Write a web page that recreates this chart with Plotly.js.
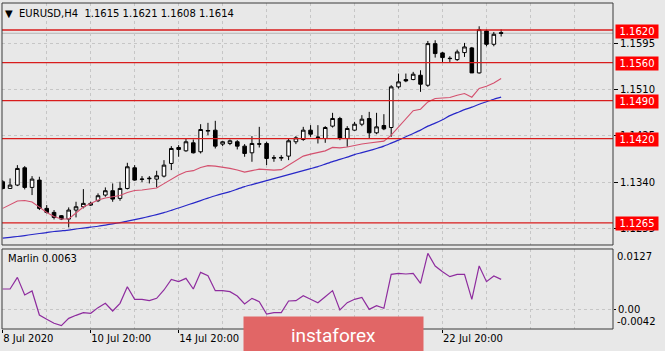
<!DOCTYPE html>
<html><head><meta charset="utf-8">
<script src="https://cdn.plot.ly/plotly-3.0.1.min.js"></script>
<style>html,body{margin:0;padding:0;background:#e8e8e8;} #chart{width:665px;height:351px;}</style>
</head><body><div id="chart"></div>
<script>
// EURUSD H4 candles
const openP = [1.13406,1.13283,1.13345,1.13663,1.13302,1.13437,1.12916,1.12842,1.12781,1.12720,
1.12885,1.12946,1.12977,1.13057,1.13161,1.13241,1.13100,1.13283,1.13663,1.13449,
1.13461,1.13455,1.13510,1.13743,1.14037,1.13976,1.14123,1.13958,1.14338,1.14356,
1.14099,1.14111,1.14142,1.14062,1.13939,1.14105,1.14111,1.13841,1.13841,1.13878,
1.14142,1.14184,1.14356,1.14221,1.14203,1.14430,1.14570,1.14203,1.14356,1.14466,
1.14570,1.14307,1.14442,1.14405,1.15153,1.15288,1.15288,1.15367,1.15183,1.15949,
1.15778,1.15680,1.15655,1.15784,1.15870,1.15410,1.16182,1.15937,1.16150];
const highP = [1.13437,1.13467,1.13712,1.13694,1.13510,1.13498,1.12977,1.12885,1.12793,1.12934,
1.13038,1.13271,1.13038,1.13192,1.13302,1.13375,1.13406,1.13755,1.13712,1.13510,
1.13510,1.13608,1.13804,1.14062,1.14080,1.14203,1.14184,1.14466,1.14491,1.14528,
1.14160,1.14184,1.14172,1.14099,1.14246,1.14417,1.14142,1.13896,1.13896,1.14203,
1.14246,1.14417,1.14448,1.14448,1.14430,1.14675,1.14601,1.14430,1.14509,1.14632,
1.14693,1.14675,1.14650,1.15183,1.15398,1.15398,1.15429,1.15459,1.15998,1.16011,
1.15796,1.15717,1.15839,1.15962,1.15888,1.16268,1.16207,1.16164,1.16210];
const lowP = [1.13265,1.13275,1.13326,1.13265,1.13161,1.12885,1.12824,1.12713,1.12701,1.12566,
1.12750,1.12916,1.12959,1.13032,1.13130,1.13038,1.13057,1.13265,1.13424,1.13400,
1.13375,1.13302,1.13486,1.13621,1.13866,1.13958,1.13927,1.13927,1.14264,1.14019,
1.14062,1.14080,1.14001,1.13866,1.13774,1.14037,1.13713,1.13774,1.13792,1.13804,
1.14099,1.14160,1.14233,1.14111,1.14123,1.14405,1.14172,1.14050,1.14344,1.14430,
1.14203,1.14282,1.14356,1.14233,1.15122,1.15239,1.15275,1.15061,1.15153,1.15692,
1.15612,1.15612,1.15631,1.15704,1.15410,1.15398,1.15900,1.15900,1.16080];
const closeP = [1.13283,1.13345,1.13651,1.13302,1.13455,1.12916,1.12842,1.12750,1.12720,1.12885,
1.12946,1.13008,1.13008,1.13149,1.13241,1.13087,1.13283,1.13682,1.13437,1.13455,
1.13470,1.13516,1.13712,1.14019,1.14001,1.14142,1.13939,1.14368,1.14350,1.14062,
1.14142,1.14160,1.14062,1.13927,1.14111,1.14099,1.13835,1.13847,1.13853,1.14160,
1.14215,1.14356,1.14282,1.14227,1.14405,1.14571,1.14203,1.14387,1.14466,1.14558,
1.14307,1.14417,1.14380,1.15153,1.15245,1.15263,1.15386,1.15202,1.15949,1.15766,
1.15692,1.15674,1.15796,1.15888,1.15410,1.16207,1.15937,1.16121,1.16140];
// moving averages
const maFast = [1.12916,1.12977,1.13051,1.13060,1.13032,1.12940,1.12839,1.12766,1.12720,1.12720,
1.12830,1.12940,1.13005,1.13069,1.13106,1.13133,1.13152,1.13207,1.13244,1.13253,
1.13271,1.13290,1.13372,1.13455,1.13529,1.13589,1.13611,1.13670,1.13703,1.13694,
1.13676,1.13652,1.13621,1.13584,1.13611,1.13639,1.13630,1.13621,1.13630,1.13712,
1.13804,1.13878,1.13915,1.13951,1.13975,1.14038,1.14029,1.14047,1.14080,1.14102,
1.14121,1.14135,1.14154,1.14264,1.14417,1.14571,1.14714,1.14742,1.14876,1.14939,
1.14944,1.14957,1.14999,1.15031,1.14963,1.15123,1.15165,1.15226,1.15307];
const maSlow = [1.12370,1.12383,1.12398,1.12416,1.12435,1.12453,1.12471,1.12490,1.12503,1.12517,
1.12536,1.12554,1.12572,1.12587,1.12609,1.12631,1.12655,1.12683,1.12710,1.12738,
1.12769,1.12802,1.12839,1.12880,1.12922,1.12968,1.13014,1.13060,1.13106,1.13148,
1.13188,1.13225,1.13271,1.13317,1.13354,1.13391,1.13427,1.13464,1.13501,1.13538,
1.13575,1.13611,1.13648,1.13685,1.13731,1.13777,1.13817,1.13860,1.13906,1.13942,
1.13979,1.14019,1.14062,1.14117,1.14172,1.14236,1.14295,1.14356,1.14430,1.14485,
1.14549,1.14623,1.14678,1.14733,1.14779,1.14834,1.14880,1.14926,1.14963];
// Marlin oscillator
const marlin = [0.00425,0.00425,0.00671,0.00298,0.00383,-0.00124,-0.00216,-0.00300,-0.00350,-0.00195,
-0.00131,-0.00075,-0.00089,0.00031,0.00122,-0.00040,0.00122,0.00474,0.00207,0.00207,
0.00179,0.00228,0.00404,0.00629,0.00580,0.00650,0.00425,0.00777,0.00707,0.00390,
0.00390,0.00369,0.00277,0.00108,0.00228,0.00157,-0.00103,-0.00075,-0.00075,0.00171,
0.00179,0.00284,0.00207,0.00136,0.00263,0.00390,-0.00019,0.00136,0.00207,0.00249,
-0.00005,0.00073,0.00017,0.00735,0.00756,0.00742,0.00756,0.00545,0.01178,0.00911,
0.00791,0.00686,0.00735,0.00735,0.00207,0.00911,0.00580,0.00700,0.00629];
// horizontal levels
const levels = [1.1620, 1.1560, 1.1490, 1.1420, 1.1265];
const levelText = ['1.1620','1.1560','1.1490','1.1420','1.1265'];
const bidPrice = 1.1614;
// axes
const priceTicks = [1.1255, 1.1340, 1.1425, 1.1510, 1.1595, 1.1680];
const priceTickText = ['1.1255','1.1340','1.1425','1.1510','1.1595','1.1680'];
const timeTickIdx = [0, 12, 24, 36, 48, 60];
const timeTickText = ['8 Jul 2020','10 Jul 20:00','14 Jul 20:00','16 Jul 20:00','20 Jul 20:00','22 Jul 20:00'];
const marlinRange = [-0.0042, 0.0127];
const titleText = '▼&nbsp; EURUSD,H4&nbsp;&nbsp;1.1615 1.1621 1.1608 1.1614';
const marlinLabel = 'Marlin 0.0063';

const idx = openP.map((_, i) => i);
const gridIdx = [];
for (let g = 0; g <= 84; g += 6) gridIdx.push(g);

const FONT = 'DejaVu Sans';
const GRID = '#c6c6c6';

const traces = [
  {type:'candlestick', x: idx, open: openP, high: highP, low: lowP, close: closeP,
   xaxis:'x', yaxis:'y', whiskerwidth: 0, hoverinfo:'skip',
   increasing:{line:{color:'#000', width:1}, fillcolor:'#ffffff'},
   decreasing:{line:{color:'#000', width:1}, fillcolor:'#000000'}},
  {type:'scatter', mode:'lines', x: idx, y: maFast, xaxis:'x', yaxis:'y',
   line:{color:'#d4506e', width:1.1}, hoverinfo:'skip'},
  {type:'scatter', mode:'lines', x: idx, y: maSlow, xaxis:'x', yaxis:'y',
   line:{color:'#2828c8', width:1.2, shape:'spline', smoothing:0.6}, hoverinfo:'skip'},
  {type:'scatter', mode:'lines', x: idx, y: marlin, xaxis:'x', yaxis:'y2',
   line:{color:'#8e2c9e', width:1.2}, hoverinfo:'skip'}
];

const shapes = [];
shapes.push({type:'line', xref:'x domain', x0:0, x1:1, yref:'y', y0:bidPrice, y1:bidPrice,
  line:{color:'#b4b4b4', width:1}, layer:'below'});
levels.forEach(l => shapes.push({type:'line', xref:'x domain', x0:0, x1:1, yref:'y', y0:l, y1:l,
  line:{color:'#d81c1c', width:1.3}}));
shapes.push({type:'rect', xref:'x domain', yref:'y domain', x0:0, x1:1, y0:0, y1:1,
  line:{color:'#3a3a3a', width:1}});
shapes.push({type:'rect', xref:'x domain', yref:'y2 domain', x0:0, x1:1, y0:0, y1:1,
  line:{color:'#3a3a3a', width:1}});

const annotations = [];
levels.forEach((l, k) => annotations.push({xref:'paper', x:1, xanchor:'left', xshift:2,
  yref:'y', y:l, yanchor:'middle', yshift:-1, text: levelText[k], showarrow:false,
  bgcolor:'#ff0000', font:{family:FONT, size:10, color:'#ffffff'}, width:40, height:11, borderpad:1}));
annotations.push({xref:'paper', x:0, xanchor:'left', xshift:1, yref:'paper', y:1, yanchor:'top', yshift:-3,
  text: titleText, showarrow:false, font:{family:FONT, size:10, color:'#000'}});
annotations.push({xref:'paper', x:0, xanchor:'left', xshift:4, yref:'y2 domain', y:1, yanchor:'top', yshift:-2,
  text: marlinLabel, showarrow:false, font:{family:FONT, size:10, color:'#000'}});
annotations.push({xref:'paper', x:1, xanchor:'left', xshift:2, yref:'y2', y:marlinRange[1], yanchor:'top',
  text:'0.0127', showarrow:false, font:{family:FONT, size:10, color:'#000'}});
annotations.push({xref:'paper', x:1, xanchor:'left', xshift:2, yref:'y2', y:marlinRange[0], yanchor:'bottom',
  text:'-0.0042', showarrow:false, font:{family:FONT, size:10, color:'#000'}});
annotations.push({xref:'paper', x:0.5426, xanchor:'center', yref:'paper', y:-0.0184, yanchor:'middle',
  text:'instaforex', showarrow:false, width:177, height:34, bgcolor:'rgb(225,102,102)',
  font:{family:'Roboto', size:19, color:'#ffffff'}});

const layout = {
  width:665, height:351, margin:{l:2, r:52, t:3, b:22},
  paper_bgcolor:'#e8e8e8', plot_bgcolor:'#e8e8e8', showlegend:false,
  font:{family:FONT, size:10, color:'#000'},
  xaxis:{range:[-0.1, 83.26], anchor:'y2', tickmode:'array', tickvals: timeTickIdx, ticktext: timeTickText,
    ticks:'outside', ticklen:3, tickcolor:'#000', ticklabelposition:'outside right',
    showgrid:true, gridcolor:GRID, griddash:'dot', gridwidth:1,
    minor:{tickmode:'array', tickvals: gridIdx, showgrid:true, gridcolor:GRID, griddash:'dot', ticks:''},
    zeroline:false, showline:false, rangeslider:{visible:false}, fixedrange:true,
    tickfont:{family:FONT, size:10, color:'#000'}},
  yaxis:{domain:[0.2577, 1], range:[1.12242, 1.16697], side:'right', tickmode:'array',
    tickvals: priceTicks, ticktext: priceTickText, ticks:'outside', ticklen:4, tickcolor:'#000',
    showgrid:true, gridcolor:GRID, griddash:'dot', zeroline:false, showline:false,
    tickfont:{family:FONT, size:10, color:'#000'}},
  yaxis2:{domain:[0, 0.2454], range: marlinRange, side:'right', tickmode:'array',
    tickvals:[0], ticktext:['0.00'], ticks:'outside', ticklen:2, tickcolor:'#000',
    showgrid:true, gridcolor:GRID, griddash:'dot', zeroline:false, showline:false,
    tickfont:{family:FONT, size:10, color:'#000'}},
  shapes: shapes, annotations: annotations
};

Plotly.newPlot('chart', traces, layout, {staticPlot:true, displayModeBar:false});
</script>
</body></html>
